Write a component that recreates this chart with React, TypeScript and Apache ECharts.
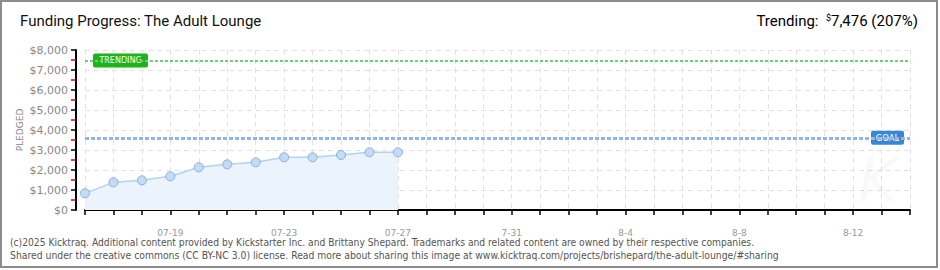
import React, { useEffect, useRef } from "react";
import * as echarts from "echarts";

const categories = [
  "07-16", "07-17", "07-18", "07-19", "07-20", "07-21", "07-22", "07-23", "07-24", "07-25",
  "07-26", "07-27", "07-28", "07-29", "07-30", "07-31", "08-01", "08-02", "08-03", "08-04",
  "08-05", "08-06", "08-07", "08-08", "08-09", "08-10", "08-11", "08-12", "08-13", "08-14",
];
const pledged = [833, 1383, 1483, 1683, 2133, 2283, 2383, 2633, 2633, 2750, 2883, 2883];
const labelDates = ["07-19", "07-23", "07-27", "07-31", "08-04", "08-08", "08-12"];
const labelTexts = ["07-19", "07-23", "07-27", "7-31", "8-4", "8-8", "8-12"];
const goal = 3612;
const trending = 7476;
const trendingPct = 207;
const yTicks = [0, 1000, 2000, 3000, 4000, 5000, 6000, 7000, 8000];

const title = "Funding Progress: The Adult Lounge";
const footer1 =
  "(c)2025 Kicktraq. Additional content provided by Kickstarter Inc. and Brittany Shepard. Trademarks and related content are owned by their respective companies.";
const footer2 =
  "Shared under the creative commons (CC BY-NC 3.0) license. Read more about sharing this image at www.kicktraq.com/projects/brishepard/the-adult-lounge/#sharing";

export default function App() {
  const ref = useRef<HTMLDivElement>(null);
  useEffect(() => {
    if (!ref.current) return;
    const chart = echarts.init(ref.current, null, { renderer: "svg" });
    const option: any = {
      animation: false,
      backgroundColor: "#fff",
      grid: { left: 85, right: 30, top: 50, bottom: 60, containLabel: false },
      xAxis: {
        type: "category",
        data: categories,
        boundaryGap: false,
        offset: 10,
        axisLine: { show: true, lineStyle: { color: "#000", width: 2 } },
        axisTick: { show: true, interval: 0, length: 5, lineStyle: { color: "#000", width: 1.5 } },
        axisLabel: {
          interval: (i: number) => labelDates.indexOf(categories[i]) >= 0,
          formatter: (v: string) => {
            const k = labelDates.indexOf(v);
            return k >= 0 ? labelTexts[k] : "";
          },
          color: "#999",
          fontSize: 9,
          fontFamily: "DejaVu Sans",
          margin: 8,
        },
        splitLine: { show: true, interval: 0, lineStyle: { color: "#e2e2e2", type: [5, 4] } },
      },
      yAxis: {
        type: "value",
        min: yTicks[0],
        max: yTicks[yTicks.length - 1],
        interval: 1000,
        offset: 9,
        name: "PLEDGED",
        nameLocation: "middle",
        nameRotate: 90,
        nameGap: 52,
        nameMoveOverlap: false,
        nameTextStyle: { color: "#888", fontSize: 9, fontFamily: "DejaVu Sans" },
        axisLine: { show: true, lineStyle: { color: "#000", width: 2 } },
        axisTick: { show: true, length: 5, lineStyle: { color: "#000", width: 1.5 } },
        minorTick: { show: true, splitNumber: 2, length: 5, lineStyle: { color: "#e00", width: 1.5 } },
        axisLabel: {
          formatter: (v: number) => "$" + v.toLocaleString("en-US"),
          color: "#888",
          fontSize: 11,
          fontFamily: "DejaVu Sans",
          margin: 8,
        },
        splitLine: { show: true, lineStyle: { color: "#e2e2e2", type: [5, 4] } },
      },
      series: [
        {
          type: "line",
          data: pledged,
          symbol: "circle",
          symbolSize: 9,
          itemStyle: { color: "#c2dcf7", borderColor: "#8daed6", borderWidth: 1 },
          lineStyle: { color: "#b5d1f0", width: 1.5 },
          areaStyle: { color: "#ebf3fc", opacity: 1 },
          markLine: {
            silent: true,
            symbol: "none",
            label: { show: false },
            data: [
              { yAxis: goal, lineStyle: { color: "#93b6e3", width: 3, type: [4, 2] } },
              { yAxis: trending, lineStyle: { color: "#6fcf6f", width: 2, type: [3, 2] } },
            ],
          },
          z: 3,
        },
      ],
    };
    chart.setOption(option);

    const yT = chart.convertToPixel({ yAxisIndex: 0 }, trending) as number;
    const yG = chart.convertToPixel({ yAxisIndex: 0 }, goal) as number;

    chart.setOption({
      graphic: [
        {
          type: "rect",
          shape: { x: 1, y: 1, width: 936, height: 266 },
          style: { fill: "none", stroke: "#8c8c8c", lineWidth: 2 },
          silent: true,
          z: 100,
        },
        {
          type: "text",
          x: 858,
          y: 150,
          style: {
            text: "K",
            fontSize: 60,
            fontStyle: "italic",
            fontFamily: "DejaVu Sans",
            fill: "rgba(0,0,0,0.025)",
          },
          silent: true,
        },
        {
          type: "text",
          x: 20,
          y: 13,
          style: { text: title, fontSize: 15, fontFamily: "Roboto", fill: "#111" },
        },
        {
          type: "text",
          x: 918,
          y: 13,
          style: {
            text: "{a|Trending:  }{s|$}{a|" + trending.toLocaleString("en-US") + " (" + trendingPct + "%)}",
            align: "right",
            rich: {
              a: { fontSize: 15, fontFamily: "Roboto", color: "#111" },
              s: { fontSize: 9, fontFamily: "Roboto", color: "#111", padding: [0, 0, 6, 0] },
            },
          },
        },
        {
          type: "group",
          x: 93,
          y: yT - 7,
          children: [
            { type: "rect", shape: { x: 0, y: 0, width: 55, height: 14, r: 2 }, style: { fill: "#1bb51b" } },
            {
              type: "text",
              x: 27.5,
              y: 7.5,
              style: {
                text: "TRENDING",
                align: "center",
                verticalAlign: "middle",
                fontSize: 8,
                fontFamily: "DejaVu Sans",
                fill: "#fff",
              },
            },
          ],
          z: 50,
        },
        {
          type: "group",
          x: 871,
          y: yG - 7,
          children: [
            { type: "rect", shape: { x: 0, y: 0, width: 33, height: 14, r: 2 }, style: { fill: "#3a86d4" } },
            {
              type: "text",
              x: 16.5,
              y: 7.5,
              style: {
                text: "GOAL",
                align: "center",
                verticalAlign: "middle",
                fontSize: 8.5,
                fontFamily: "DejaVu Sans",
                fill: "#fff",
              },
            },
          ],
          z: 50,
        },
        {
          type: "text",
          x: 10,
          y: 237,
          style: { text: footer1, fontSize: 10.2, fontFamily: "DejaVu Sans Condensed, DejaVu Sans", fill: "#555" },
        },
        {
          type: "text",
          x: 10,
          y: 250,
          style: { text: footer2, fontSize: 10.3, fontFamily: "DejaVu Sans Condensed, DejaVu Sans", fill: "#555" },
        },
      ],
    });
    return () => chart.dispose();
  }, []);
  return (
    <div
      ref={ref}
      style={{ width: 940, height: 270, position: "absolute", left: 0, top: 0 }}
    />
  );
}
